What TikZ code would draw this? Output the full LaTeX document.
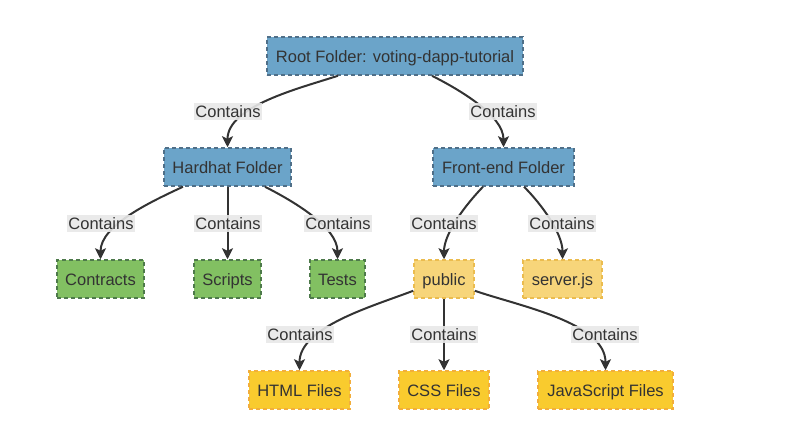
\documentclass[tikz,border=0pt]{standalone}
\usepackage{fontspec}
\setmainfont{Liberation Sans}
\usetikzlibrary{arrows.meta}
\definecolor{txt}{HTML}{333333}
\definecolor{bluefill}{HTML}{6BA4C9}
\definecolor{bluedraw}{HTML}{4F6F88}
\definecolor{greenfill}{HTML}{82C062}
\definecolor{greendraw}{HTML}{4E7A4B}
\definecolor{lyfill}{HTML}{F7D57A}
\definecolor{lydraw}{HTML}{EBBC4F}
\definecolor{dyfill}{HTML}{F9CB2E}
\definecolor{dydraw}{HTML}{F2AE3C}
\definecolor{labbg}{HTML}{E8E8E8}
\tikzset{
  box/.style={rectangle, dashed, dash pattern=on 4pt off 3pt, line width=1.5pt, minimum height=38pt, inner sep=0pt, text height=14pt, text depth=2pt, text=txt, font=\fontsize{16.5}{19}\selectfont},
  bluebox/.style={box, fill=bluefill, draw=bluedraw},
  greenbox/.style={box, fill=greenfill, draw=greendraw},
  lybox/.style={box, fill=lyfill, draw=lydraw},
  dybox/.style={box, fill=dyfill, draw=dydraw},
  lab/.style={fill=labbg, fill opacity=0.9, text opacity=1, text=txt, inner sep=1pt, text height=13.5pt, text depth=1.5pt, font=\fontsize{16.5}{19}\selectfont},
  edge/.style={draw=txt, line width=2pt, -{Stealth[length=11pt,width=11pt,inset=2.5pt]}},
}
\begin{document}
\begin{tikzpicture}[x=1pt,y=-1pt]
\useasboundingbox (0,0) rectangle (792,439);
% nodes
\node[bluebox, minimum width=256pt] (root) at (395,56) {Root Folder: voting-dapp-tutorial};
\node[bluebox, minimum width=127pt] (hard) at (227.5,167) {Hardhat Folder};
\node[bluebox, minimum width=141pt] (front) at (503.5,167) {Front-end Folder};
\node[greenbox, minimum width=87pt] (contracts) at (100.5,279) {Contracts};
\node[greenbox, minimum width=67pt] (scripts) at (227.5,279) {Scripts};
\node[greenbox, minimum width=55pt] (tests) at (337.5,279) {Tests};
\node[lybox, minimum width=60pt] (public) at (444,279) {public};
\node[lybox, minimum width=79pt] (server) at (562.5,279) {server.js};
\node[dybox, minimum width=101pt] (html) at (299.5,390) {HTML Files};
\node[dybox, minimum width=90pt] (css) at (444,390) {CSS Files};
\node[dybox, minimum width=135pt] (js) at (605.5,390) {JavaScript Files};
% edges
\draw[edge] ([xshift=-57pt]root.south) to[out=198,in=90,looseness=0.8] (hard.north);
\draw[edge] ([xshift=37pt]root.south) to[out=-27,in=90,looseness=0.8] (front.north);
\draw[edge] ([xshift=-44.5pt]hard.south) to[out=205,in=90,looseness=0.8] (contracts.north);
\draw[edge] (hard.south) -- (scripts.north);
\draw[edge] ([xshift=37.5pt]hard.south) to[out=-27,in=90,looseness=0.8] (tests.north);
\draw[edge] ([xshift=-20.5pt]front.south) to[out=226,in=90,looseness=0.8] (public.north);
\draw[edge] ([xshift=20.5pt]front.south) to[out=-45,in=90,looseness=0.8] (server.north);
\draw[edge] ([yshift=8pt]public.south west) to[out=201,in=90,looseness=0.8] (html.north);
\draw[edge] (public.south) -- (css.north);
\draw[edge] ([yshift=8pt]public.south east) to[out=-19,in=90,looseness=0.8] (js.north);
% labels
\node[lab] (l1) at (228,111) {Contains};
\node[lab] (l2) at (503,111) {Contains};
\node[lab] (l3) at (101,223) {Contains};
\node[lab] (l4) at (228,223) {Contains};
\node[lab] (l5) at (338,223) {Contains};
\node[lab] (l6) at (444,223) {Contains};
\node[lab] (l7) at (562,223) {Contains};
\node[lab] (l8) at (300,334) {Contains};
\node[lab] (l9) at (444,334) {Contains};
\node[lab] (l10) at (605,334) {Contains};
\end{tikzpicture}
\end{document}
